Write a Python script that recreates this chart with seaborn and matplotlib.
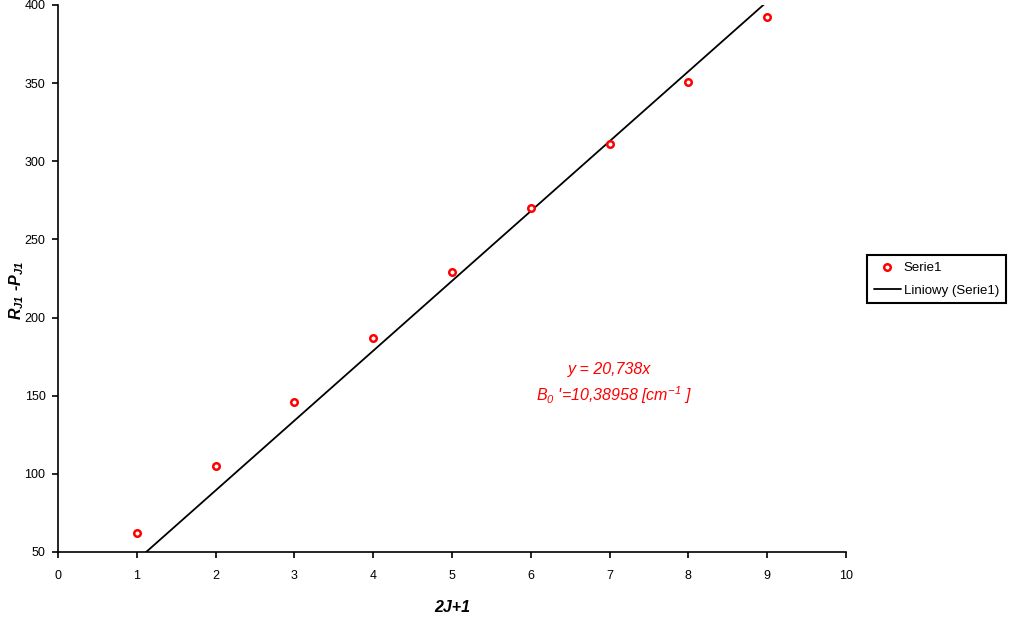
import numpy as np
import pandas as pd
import seaborn as sns
import matplotlib.pyplot as plt

# data
x_vals = [1, 2, 3, 4, 5, 6, 7, 8, 9]
r_minus_p = [62, 105, 146, 187, 229, 270, 311, 351, 392]

sns.set_style("ticks")
plt.rcParams["font.family"] = ["Liberation Sans", "DejaVu Sans"]
plt.rcParams["text.color"] = "black"
plt.rcParams["axes.labelcolor"] = "black"
plt.rcParams["xtick.color"] = "black"
plt.rcParams["ytick.color"] = "black"
plt.rcParams["axes.edgecolor"] = "black"
plt.rcParams["mathtext.fontset"] = "custom"
plt.rcParams["mathtext.rm"] = "Liberation Sans:italic"
plt.rcParams["mathtext.it"] = "Liberation Sans:italic"
plt.rcParams["mathtext.bf"] = "Liberation Sans:bold:italic"

df = pd.DataFrame({"x": x_vals, "y": r_minus_p})

# trendline through origin (least squares)
xa = np.array(x_vals, dtype=float)
ya = np.array(r_minus_p, dtype=float)
slope = (xa * ya).sum() / (xa * xa).sum()
trend = pd.DataFrame({"x": [0, 10]})
trend["y"] = slope * trend["x"]

fig = plt.figure(figsize=(10.14, 6.31), dpi=100)
ax = fig.add_axes([0.0572, 0.1252, 0.7771, 0.8669])

sns.lineplot(data=trend, x="x", y="y", ax=ax, color="black", linewidth=1.3,
             label="Liniowy (Serie1)", zorder=2)
sns.scatterplot(data=df, x="x", y="y", ax=ax, marker="o", s=22,
                facecolor="white", edgecolor="red", linewidth=1.8,
                label="Serie1", zorder=3)

ax.set_xlim(0, 10)
ax.set_ylim(50, 400)
ax.set_xticks(range(0, 11))
ax.set_yticks(range(50, 401, 50))
ax.tick_params(labelsize=9, length=4, width=1.2, direction="out")
ax.tick_params(axis="x", pad=9)
ax.tick_params(axis="y", pad=5)
for s in ["left", "bottom"]:
    ax.spines[s].set_linewidth(1.2)
sns.despine(ax=ax)

ax.set_xlabel("2J+1", fontsize=11.5, fontweight="bold", fontstyle="italic")
ax.xaxis.set_label_coords(0.5, -0.088)
ax.set_ylabel(r"$\mathbf{R}_{\mathbf{J1}}$ -$\mathbf{P}_{\mathbf{J1}}$",
              fontsize=11.5, fontweight="bold", fontstyle="italic")
ax.yaxis.set_label_coords(-0.041, 0.479)

ax.text(7.0, 167, "y = 20,738x", color="red", fontstyle="italic",
        fontsize=11.5, ha="center", va="center")
ax.text(7.05, 150.5, r"B$_{\mathrm{0}}$ '=10,38958 [cm$^{\mathrm{-1}}$ ]",
        color="red", fontstyle="italic", fontsize=11.5, ha="center", va="center")

handles, labels = ax.get_legend_handles_labels()
ax.get_legend().remove()
order = [labels.index("Serie1"), labels.index("Liniowy (Serie1)")]
leg = fig.legend([handles[i] for i in order], [labels[i] for i in order],
                 loc="upper left", bbox_to_anchor=(0.855, 0.596),
                 fontsize=9.5, frameon=True, fancybox=False, framealpha=1,
                 edgecolor="black", handlelength=2.1, handletextpad=0.2,
                 borderpad=0.5, labelspacing=0.8, borderaxespad=0)
leg.get_frame().set_linewidth(1.5)

fig.savefig("out.png", dpi=100)
